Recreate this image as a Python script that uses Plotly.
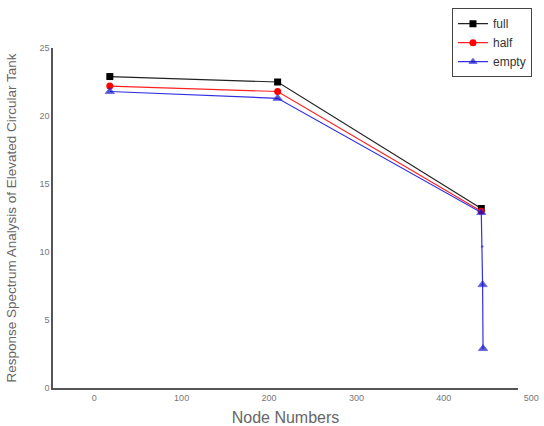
import plotly.graph_objects as go

# Data
node_main = [35, 227, 460]
full_vals = [22.9, 22.5, 13.2]
half_vals = [22.2, 21.8, 13.0]
node_empty = [35, 227, 460, 461, 461.5, 462]
empty_vals = [21.8, 21.3, 12.9, 10.4, 7.6, 2.9]

x_ticks = [0, 100, 200, 300, 400, 500]
y_ticks = [0, 5, 10, 15, 20, 25]

fig = go.Figure()
fig.add_trace(go.Scatter(
    x=node_main, y=full_vals, name="full", mode="lines+markers",
    line=dict(color="#222222", width=1.2),
    marker=dict(symbol="square", size=7, color="#000000"),
))
fig.add_trace(go.Scatter(
    x=node_main, y=half_vals, name="half", mode="lines+markers",
    line=dict(color="#ff2020", width=1.2),
    marker=dict(symbol="circle", size=7, color="#ff0000"),
))
fig.add_trace(go.Scatter(
    x=node_empty, y=empty_vals, name="empty", mode="lines+markers",
    line=dict(color="#3030e0", width=1.2),
    marker=dict(symbol="triangle-up", size=[8, 8, 8, 2, 8, 8], color="#1010c0"),
))

fig.update_layout(
    width=544, height=426,
    margin=dict(l=53, r=26, t=48, b=38, autoexpand=False),
    paper_bgcolor="white", plot_bgcolor="white",
    font=dict(family="Liberation Sans, Arial, sans-serif", color="#555555"),
    showlegend=True,
    legend=dict(
        x=0.858, y=1.117, xanchor="left", yanchor="top",
        bordercolor="#444444", borderwidth=1, bgcolor="white",
        font=dict(size=12, color="#333333"),
        tracegroupgap=0, itemwidth=30,
    ),
    xaxis=dict(
        range=[-30, 502], tickvals=x_ticks, ticktext=[str(v) for v in x_ticks],
        showgrid=False, zeroline=False, showline=True, linecolor="#555555", linewidth=1.5,
        ticks="", tickfont=dict(size=9, color="#777777"), ticklabelshift=15,
        automargin=False,
        title=dict(text="Node Numbers", font=dict(size=16, color="#666666"), standoff=10),
    ),
    yaxis=dict(
        range=[0, 25], tickvals=y_ticks, ticktext=[str(v) for v in y_ticks],
        showgrid=False, zeroline=False, showline=True, linecolor="#555555", linewidth=1.5,
        ticks="", tickfont=dict(size=9, color="#777777"),
        automargin=False,
        title=dict(text="Response Spectrum Analysis of Elevated Circular Tank",
                   font=dict(size=13.5, color="#666666"), standoff=20),
    ),
)

fig.write_html("out.html", config={"displayModeBar": False},
               post_script="document.body.style.margin='0';")
